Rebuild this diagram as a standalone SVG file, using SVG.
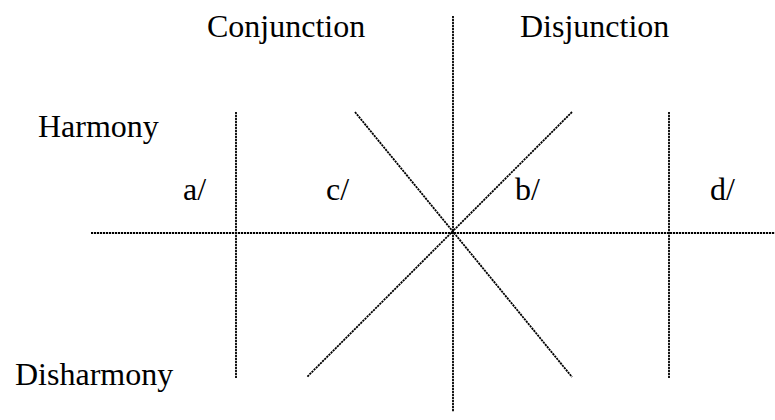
<svg xmlns="http://www.w3.org/2000/svg" width="775" height="420" viewBox="0 0 775 420">
<style>
.t{font-family:"Liberation Serif","Times New Roman",serif;font-size:32px;fill:#000}
.l{stroke:#000;stroke-width:1.8;stroke-dasharray:2.2 0.8;fill:none}
</style>
<rect width="775" height="420" fill="#fff"/>
<g id="connectors">
<line class="l" x1="453" y1="16" x2="453" y2="412"/>
<line class="l" x1="91" y1="233" x2="775" y2="233"/>
<line class="l" x1="236" y1="112" x2="236" y2="378"/>
<line class="l" x1="669" y1="112" x2="669" y2="378"/>
<line class="l" x1="355" y1="112" x2="572" y2="377"/>
<line class="l" x1="572" y1="112" x2="307" y2="377"/>
</g>
<g id="labels">
<text class="t" x="207" y="37">Conjunction</text>
<text class="t" x="520" y="37">Disjunction</text>
<text class="t" x="38" y="137">Harmony</text>
<text class="t" x="15" y="385">Disharmony</text>
<text class="t" x="183" y="200">a/</text>
<text class="t" x="326" y="200">c/</text>
<text class="t" x="515" y="200">b/</text>
<text class="t" x="710" y="200">d/</text>
</g>
</svg>
